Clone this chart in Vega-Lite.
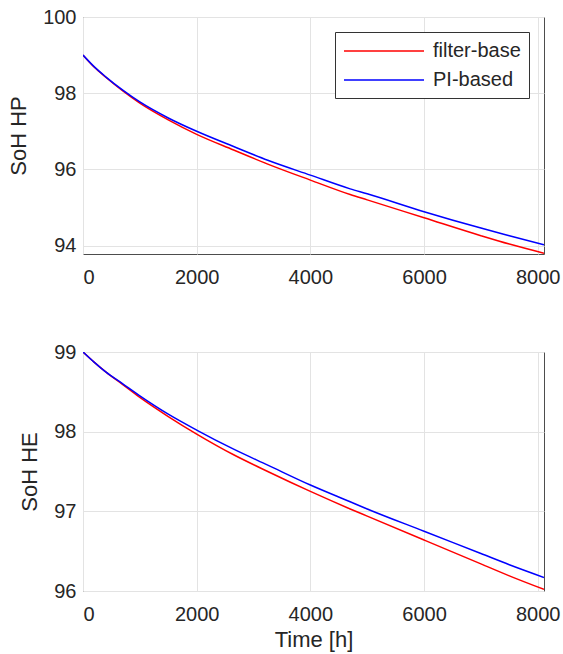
{
  "$schema": "https://vega.github.io/schema/vega-lite/v6.json",
  "padding": {"left": 7, "top": 6, "right": 10, "bottom": 4},
  "background": "white",
  "spacing": 53,
  "config": {
    "font": "Liberation Sans",
    "view": {"stroke": "#4d4d4d", "strokeWidth": 1},
    "axis": {
      "labelFont": "Liberation Sans",
      "labelFontSize": 20,
      "labelColor": "#262626",
      "titleFont": "Liberation Sans",
      "titleFontSize": 22,
      "titleFontWeight": "normal",
      "titleColor": "#262626",
      "gridColor": "#e3e3e3",
      "gridWidth": 1,
      "domain": false,
      "ticks": false,
      "format": "d"
    },
    "axisX": {"labelPadding": 13, "titlePadding": 5},
    "axisY": {"labelPadding": 7, "titlePadding": 12}
  },
  "data": {"values": [
    {"t": 0, "series": "filter-base", "hp": 99.00, "he": 99.00},
    {"t": 200, "series": "filter-base", "hp": 98.68, "he": 98.87},
    {"t": 400, "series": "filter-base", "hp": 98.42, "he": 98.75},
    {"t": 700, "series": "filter-base", "hp": 98.06, "he": 98.59},
    {"t": 1000, "series": "filter-base", "hp": 97.74, "he": 98.43},
    {"t": 1500, "series": "filter-base", "hp": 97.30, "he": 98.19},
    {"t": 2000, "series": "filter-base", "hp": 96.92, "he": 97.97},
    {"t": 2650, "series": "filter-base", "hp": 96.51, "he": 97.71},
    {"t": 3250, "series": "filter-base", "hp": 96.14, "he": 97.50},
    {"t": 4000, "series": "filter-base", "hp": 95.72, "he": 97.25},
    {"t": 4700, "series": "filter-base", "hp": 95.34, "he": 97.03},
    {"t": 5000, "series": "filter-base", "hp": 95.20, "he": 96.94},
    {"t": 6000, "series": "filter-base", "hp": 94.73, "he": 96.64},
    {"t": 7000, "series": "filter-base", "hp": 94.26, "he": 96.34},
    {"t": 7500, "series": "filter-base", "hp": 94.04, "he": 96.19},
    {"t": 8110, "series": "filter-base", "hp": 93.80, "he": 96.02},
    {"t": 0, "series": "PI-based", "hp": 99.00, "he": 99.00},
    {"t": 200, "series": "PI-based", "hp": 98.69, "he": 98.87},
    {"t": 400, "series": "PI-based", "hp": 98.43, "he": 98.75},
    {"t": 700, "series": "PI-based", "hp": 98.08, "he": 98.60},
    {"t": 1000, "series": "PI-based", "hp": 97.77, "he": 98.45},
    {"t": 1500, "series": "PI-based", "hp": 97.35, "he": 98.22},
    {"t": 2000, "series": "PI-based", "hp": 97.00, "he": 98.02},
    {"t": 2650, "series": "PI-based", "hp": 96.60, "he": 97.78},
    {"t": 3250, "series": "PI-based", "hp": 96.24, "he": 97.58},
    {"t": 4000, "series": "PI-based", "hp": 95.85, "he": 97.33},
    {"t": 4700, "series": "PI-based", "hp": 95.49, "he": 97.12},
    {"t": 5000, "series": "PI-based", "hp": 95.36, "he": 97.03},
    {"t": 6000, "series": "PI-based", "hp": 94.89, "he": 96.75},
    {"t": 7000, "series": "PI-based", "hp": 94.46, "he": 96.47},
    {"t": 7500, "series": "PI-based", "hp": 94.26, "he": 96.33},
    {"t": 8110, "series": "PI-based", "hp": 94.02, "he": 96.17}
  ]},
  "resolve": {"legend": {"color": "independent"}},
  "vconcat": [
    {
      "width": 461,
      "height": 237,
      "mark": {"type": "line", "strokeWidth": 1.5, "clip": true, "interpolate": "monotone"},
      "encoding": {
        "x": {"field": "t", "type": "quantitative", "scale": {"domain": [0, 8110], "nice": false}, "axis": {"values": [0, 2000, 4000, 6000, 8000], "title": null}},
        "y": {"field": "hp", "type": "quantitative", "scale": {"domain": [93.78, 100], "nice": false, "zero": false}, "axis": {"values": [94, 96, 98, 100], "title": "SoH HP"}},
        "color": {"field": "series", "type": "nominal", "scale": {"domain": ["filter-base", "PI-based"], "range": ["#ff0000", "#0000ff"]},
          "legend": {"title": null, "orient": "top-right", "offset": 15, "strokeColor": "#333333", "fillColor": "white", "padding": 8, "symbolType": "M-1,0H7", "symbolSize": 400, "symbolStrokeWidth": 1.5, "labelFont": "Liberation Sans", "labelFontSize": 20, "labelColor": "#262626", "labelOffset": 68, "rowPadding": 8}}
      }
    },
    {
      "width": 461,
      "height": 239,
      "mark": {"type": "line", "strokeWidth": 1.5, "clip": true, "interpolate": "monotone"},
      "encoding": {
        "x": {"field": "t", "type": "quantitative", "scale": {"domain": [0, 8110], "nice": false}, "axis": {"values": [0, 2000, 4000, 6000, 8000], "title": "Time [h]"}},
        "y": {"field": "he", "type": "quantitative", "scale": {"domain": [96, 99], "nice": false, "zero": false}, "axis": {"values": [96, 97, 98, 99], "title": "SoH HE"}},
        "color": {"field": "series", "type": "nominal", "scale": {"domain": ["filter-base", "PI-based"], "range": ["#ff0000", "#0000ff"]}, "legend": null}
      }
    }
  ]
}
